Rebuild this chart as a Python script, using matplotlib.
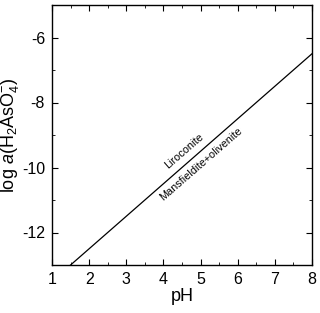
import matplotlib
matplotlib.use("Agg")
import matplotlib.pyplot as plt
from matplotlib.ticker import MultipleLocator

plt.rcParams['font.family'] = ['Liberation Sans', 'DejaVu Sans']
plt.rcParams['mathtext.fontset'] = 'custom'
plt.rcParams['mathtext.rm'] = 'Liberation Sans'
plt.rcParams['mathtext.it'] = 'Liberation Sans:italic'
plt.rcParams['axes.unicode_minus'] = False

# boundary line: liroconite / mansfieldite+olivenite
line_ph = [1.5, 8.0]
line_loga = [-13.0, -6.5]

field_labels = ["Liroconite", "Mansfieldite+olivenite"]
label_ph = [4.56, 5.0]
label_loga = [-9.5, -9.9]

fig = plt.figure(figsize=(3.2, 3.13), dpi=100)
ax = fig.add_axes([52/320, 48/313, 260/320, 260/313])

ax.plot(line_ph, line_loga, color='black', lw=0.9)

for t, x, y in zip(field_labels, label_ph, label_loga):
    ax.text(x, y, t, rotation=41, ha='center', va='center', fontsize=7.8,
            rotation_mode='anchor')

ax.set_xlim(1, 8)
ax.set_ylim(-13, -5)
ax.xaxis.set_major_locator(MultipleLocator(1))
ax.xaxis.set_minor_locator(MultipleLocator(0.5))
ax.yaxis.set_major_locator(MultipleLocator(2))
ax.yaxis.set_minor_locator(MultipleLocator(1))
ax.tick_params(which='both', direction='in', top=True, right=True, labelsize=11.5)
ax.tick_params(which='major', length=4, width=0.8, pad=5)
ax.tick_params(which='minor', length=2.5, width=0.6)
for s in ax.spines.values():
    s.set_linewidth(1.0)

ax.set_xlabel('pH', fontsize=13, labelpad=1)
ax.set_ylabel(r'log $a$(H$_2$AsO$_4^{-}$)', fontsize=13, labelpad=1)

fig.savefig('out.png', dpi=100)
